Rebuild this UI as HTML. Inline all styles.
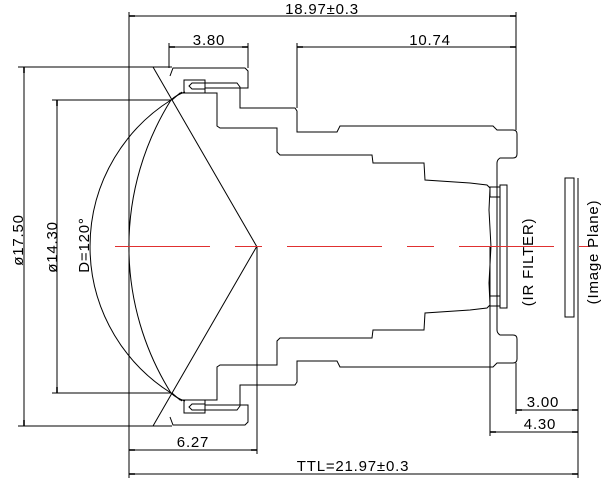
<!DOCTYPE html>
<html><head><meta charset="utf-8"><style>
html,body{margin:0;padding:0;background:#fff;}
svg{display:block;}
text{font-family:"Liberation Sans",sans-serif;font-size:15px;letter-spacing:0.8px;fill:#000;}
</style></head><body>
<svg width="614" height="485" viewBox="0 0 614 485" xmlns="http://www.w3.org/2000/svg">
<defs>
<g id="half" fill="none" stroke="#000" stroke-width="1">
<path d="M170,76 L173,68 L245,68 L248,71 L248,88 L205,88"/>
<rect x="184" y="80" width="21" height="13"/>
<path d="M205,83 L192,83 L189,86 L192,89 L205,89 M205,83 L237,83 L240,87 L240,108 L295,108 L297,111 L297,132 L337,132 L340,126 L493,126 L497,130 L513,130 Q517,130 517,134 L517,154 Q517,158 513,158 L500,158 Q497,160 497,163 L497,247"/>
<path d="M172,100 L180,93 L217,93 L217,126 L220,128 L277,128 L277,152 L280,155 L372,155 L373,163 L424,163 L425,180 L470,183 L487,185 L490,188 L489,210 L491,247"/>
<rect x="490" y="187" width="10" height="10"/>
<line x1="153" y1="67" x2="257" y2="247"/>
</g>
</defs>
<use href="#half"/>
<use href="#half" transform="translate(0,493) scale(1,-1)"/>
<g fill="none" stroke="#000" stroke-width="1">
<path d="M182,92 L171,100 A173,173 0 0 0 171,393 L182,401"/>
<path d="M185,92 Q176,95 171,100 A276,276 0 0 0 171,393 Q176,398 185,401"/>
<rect x="500" y="185" width="7" height="123"/>
<rect x="565" y="178" width="9" height="139"/>
<line x1="129" y1="12" x2="129" y2="478"/>
<line x1="516" y1="12" x2="516" y2="130"/>
<line x1="169" y1="43" x2="169" y2="68"/>
<line x1="248" y1="43" x2="248" y2="68"/>
<line x1="297" y1="43" x2="297" y2="108"/>
<line x1="257" y1="247" x2="257" y2="454"/>
<line x1="490" y1="247" x2="490" y2="436"/>
<line x1="516" y1="363" x2="516" y2="414"/>
<line x1="578" y1="178" x2="578" y2="478"/>
<line x1="18" y1="67" x2="172" y2="67"/>
<line x1="18" y1="426" x2="172" y2="426"/>
<line x1="52" y1="100" x2="172" y2="100"/>
<line x1="52" y1="393" x2="172" y2="393"/>
<line x1="129" y1="16" x2="516" y2="16"/>
<line x1="169" y1="47" x2="248" y2="47"/>
<line x1="297" y1="47" x2="516" y2="47"/>
<line x1="129" y1="450" x2="257" y2="450"/>
<line x1="129" y1="474" x2="578" y2="474"/>
<line x1="516" y1="410" x2="578" y2="410"/>
<line x1="490" y1="432" x2="578" y2="432"/>
<line x1="24" y1="67" x2="24" y2="426"/>
<line x1="57" y1="100" x2="57" y2="393"/>
</g>
<g stroke="#000" stroke-width="1.6">
<line x1="129" y1="16" x2="135" y2="16"/><line x1="510" y1="16" x2="516" y2="16"/>
<line x1="169" y1="47" x2="175" y2="47"/><line x1="242" y1="47" x2="248" y2="47"/>
<line x1="297" y1="47" x2="303" y2="47"/><line x1="510" y1="47" x2="516" y2="47"/>
<line x1="129" y1="450" x2="135" y2="450"/><line x1="251" y1="450" x2="257" y2="450"/>
<line x1="129" y1="474" x2="135" y2="474"/><line x1="572" y1="474" x2="578" y2="474"/>
<line x1="516" y1="410" x2="522" y2="410"/><line x1="572" y1="410" x2="578" y2="410"/>
<line x1="490" y1="432" x2="496" y2="432"/><line x1="572" y1="432" x2="578" y2="432"/>
<line x1="24" y1="67" x2="24" y2="73"/><line x1="24" y1="420" x2="24" y2="426"/>
<line x1="57" y1="100" x2="57" y2="106"/><line x1="57" y1="387" x2="57" y2="393"/>
</g>
<line x1="115" y1="246.5" x2="590" y2="246.5" stroke="#e03030" stroke-width="1" stroke-dasharray="95,25,27,25"/>
<text x="322" y="14" text-anchor="middle">18.97±0.3</text>
<text x="209" y="45" text-anchor="middle">3.80</text>
<text x="430" y="45" text-anchor="middle">10.74</text>
<text x="193" y="447" text-anchor="middle">6.27</text>
<text x="353" y="471" text-anchor="middle">TTL=21.97±0.3</text>
<text x="543" y="407" text-anchor="middle">3.00</text>
<text x="540" y="429" text-anchor="middle">4.30</text>
<text transform="translate(23,240) rotate(-90)" text-anchor="middle">ø17.50</text>
<text transform="translate(57,247) rotate(-90)" text-anchor="middle">ø14.30</text>
<text transform="translate(89,245) rotate(-90)" text-anchor="middle">D=120°</text>
<text transform="translate(533,262) rotate(-90)" text-anchor="middle">(IR FILTER)</text>
<text transform="translate(598,252) rotate(-90)" text-anchor="middle">(Image Plane)</text>
</svg>
</body></html>
